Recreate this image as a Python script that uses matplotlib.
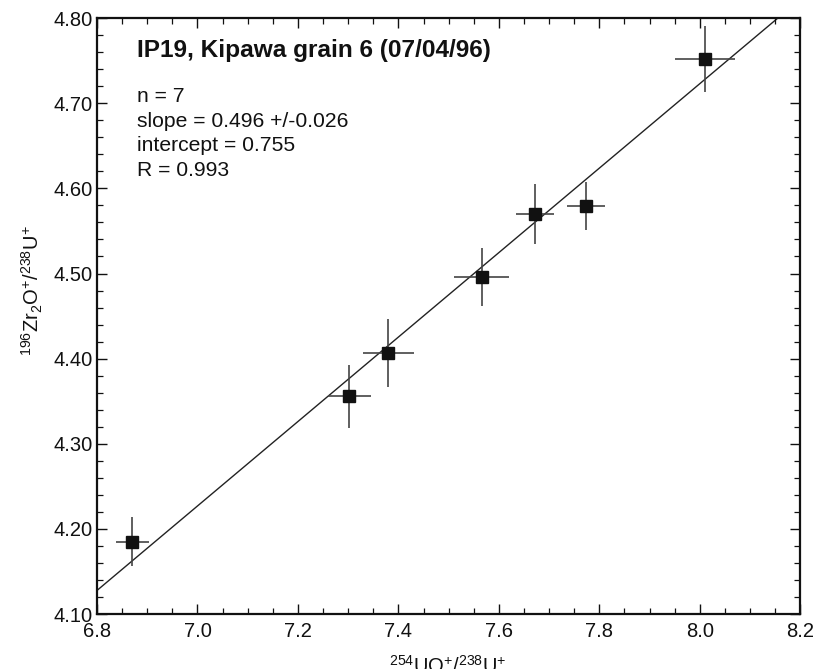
import numpy as np
import matplotlib
matplotlib.use("Agg")
import matplotlib.pyplot as plt
from matplotlib.ticker import MultipleLocator, FormatStrFormatter

plt.rcParams['font.family'] = ['Liberation Sans', 'DejaVu Sans']
plt.rcParams['mathtext.fontset'] = 'custom'
plt.rcParams['mathtext.rm'] = 'Liberation Sans'
plt.rcParams['mathtext.it'] = 'Liberation Sans'

# UO+/U+ ratios, Zr2O+/U+ ratios and their uncertainties
uo_u = [6.870, 7.302, 7.380, 7.566, 7.672, 7.774, 8.010]
zr2o_u = [4.185, 4.356, 4.407, 4.496, 4.570, 4.579, 4.752]
uo_err = [0.033, 0.043, 0.051, 0.055, 0.038, 0.038, 0.060]
zr_err = [0.029, 0.037, 0.040, 0.034, 0.035, 0.028, 0.039]

slope = 0.496
intercept = 0.755

fig = plt.figure(figsize=(8.15, 6.69), dpi=100)
ax = fig.add_axes([0.119, 0.082, 0.863, 0.891])

ax.errorbar(uo_u, zr2o_u, xerr=uo_err, yerr=zr_err, fmt='none',
            ecolor='#444444', elinewidth=1.2, capsize=0, zorder=2)
ax.plot(uo_u, zr2o_u, 's', color='#111111', markersize=8.5, zorder=3)

xfit = np.linspace(6.8, 8.2, 50)
ax.plot(xfit, intercept + slope * xfit, color='#222222', lw=1.0, zorder=1)

ax.set_xlim(6.8, 8.2)
ax.set_ylim(4.10, 4.80)
ax.xaxis.set_major_locator(MultipleLocator(0.2))
ax.xaxis.set_minor_locator(MultipleLocator(0.05))
ax.yaxis.set_major_locator(MultipleLocator(0.1))
ax.yaxis.set_minor_locator(MultipleLocator(0.02))
ax.xaxis.set_major_formatter(FormatStrFormatter('%.1f'))
ax.yaxis.set_major_formatter(FormatStrFormatter('%.2f'))
ax.tick_params(which='both', direction='in', top=True, right=True,
               labelsize=14.5, colors='#111111')
ax.tick_params(axis='x', which='major', pad=6)
ax.tick_params(axis='y', which='major', pad=3)
ax.tick_params(which='major', length=7.5, width=1.0)
ax.tick_params(which='minor', length=4, width=0.9)
for sp in ax.spines.values():
    sp.set_linewidth(1.6)
    sp.set_color('#111111')

fig.text(0.549, -0.005, r'$^{254}$UO$^{+}$/$^{238}$U$^{+}$', fontsize=14.5,
         ha='center', va='baseline', color='#111111')
ax.set_ylabel(r'$^{196}$Zr$_{2}$O$^{+}$/$^{238}$U$^{+}$', fontsize=14.5,
              color='#111111')
ax.yaxis.set_label_coords(-0.074, 0.543)

ax.text(0.057, 0.9346, 'IP19, Kipawa grain 6 (07/04/96)', transform=ax.transAxes,
        fontsize=17.6, fontweight='bold', va='baseline', ha='left', color='#111111')
stats = ['n = 7', 'slope = 0.496 +/-0.026', 'intercept = 0.755', 'R = 0.993']
for i, s in enumerate(stats):
    ax.text(0.057, 0.859 - i * 0.0414, s, transform=ax.transAxes,
            fontsize=15.2, va='baseline', ha='left', color='#111111')

fig.savefig('out.png', dpi=100)
